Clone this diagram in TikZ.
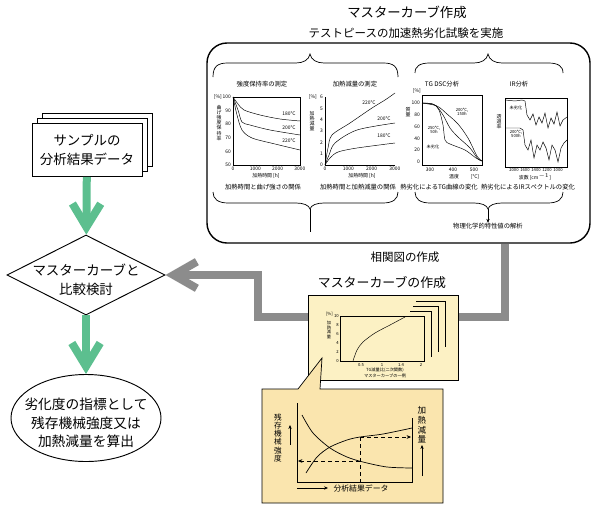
\documentclass[tikz,border=0pt]{standalone}
\usepackage{fontspec}
\setmainfont{Noto Sans CJK JP}
\usetikzlibrary{arrows.meta, positioning, shapes.geometric, calc}
\definecolor{FlowGreen}{HTML}{5CBF8F}
\definecolor{FlowGray}{HTML}{8C8C8C}
\definecolor{CardYellow}{HTML}{FCF1C4}
\definecolor{NoteYellow}{HTML}{FAE5AE}

\begin{document}
\begin{tikzpicture}[
    x=0.03cm, y=-0.03cm,
    % Text sizes
    bigtxt/.style={font=\fontsize{11.5}{16}\selectfont, align=center, inner sep=0},
    midtxt/.style={font=\fontsize{9.8}{12}\selectfont, inner sep=0},
    smalltxt/.style={font=\fontsize{5.4}{6.2}\selectfont, align=center, inner sep=0},
    tinytxt/.style={font=\fontsize{4.2}{4.6}\selectfont, align=center, inner sep=0},
    microtxt/.style={font=\fontsize{3.6}{4}\selectfont, align=center, inner sep=0},
    vtxt/.style={font=\fontsize{4.2}{4.4}\selectfont, align=center, inner sep=0},
    % Boxes
    panel/.style={
        rectangle,
        rounded corners=0.6cm,
        draw=black,
        line width=1.2pt,
        minimum width=11.49cm,
        minimum height=6cm
    },
    datacard/.style={
        rectangle,
        draw=black,
        fill=white,
        line width=0.8pt,
        minimum width=3.3cm,
        minimum height=1.59cm
    },
    judge/.style={
        diamond,
        draw=black,
        fill=white,
        line width=0.8pt,
        inner sep=0,
        minimum width=4.74cm,
        minimum height=2.4cm
    },
    result/.style={
        ellipse,
        draw=black,
        fill=white,
        line width=0.8pt,
        inner sep=0,
        minimum width=4.5cm,
        minimum height=2.61cm
    },
    mcard/.style={
        rectangle,
        draw=black,
        fill=CardYellow,
        line width=0.6pt,
        minimum width=4.5cm,
        minimum height=2.55cm
    },
    note/.style={draw=black, fill=NoteYellow, line width=0.6pt},
    brace/.style={draw=black, line width=0.6pt},
    curve/.style={draw=black, line width=0.4pt},
    % Connector styles
    grnarrow/.style={
        draw=FlowGreen,
        line width=0.24cm,
        -{Straight Barb[length=0.7cm, width=0.85cm]}
    },
    grayarrow/.style={
        draw=FlowGray,
        line width=0.24cm,
        -{Straight Barb[length=0.7cm, width=0.8cm]}
    },
    thinarrow/.style={draw=black, line width=0.4pt, -{Stealth[length=1.2mm, width=1mm]}}
]
    \useasboundingbox (0,0) rectangle (596,507);

    % --- Headings ---
    \node[font=\fontsize{11.4}{13}\selectfont, inner sep=0] (head) at (407,12) {マスターカーブ作成};
    \node[midtxt] (subhead) at (406,33) {テストピースの加速熱劣化試験を実施};

    % --- Test panel ---
    \node[panel] (test) at (398.5,143) {};

    % braces
    \draw[brace] (213,77) .. controls (213,66) and (218,63) .. (228,63) -- (296,63)
        .. controls (303,63) and (309,60) .. (310,54) .. controls (311,60) and (317,63) .. (324,63)
        -- (383,63) .. controls (393,63) and (398,66) .. (398,77);
    \draw[brace] (415,73) .. controls (415,66) and (420,63) .. (430,63) -- (474,63)
        .. controls (481,63) and (487,60) .. (488,54) .. controls (489,60) and (495,63) .. (502,63)
        -- (548,63) .. controls (558,63) and (563,66) .. (563,73);
    \draw[brace] (213,192) .. controls (213,199) and (218,203) .. (228,203) -- (296,203)
        .. controls (303,203) and (309,205) .. (310,209) .. controls (311,205) and (317,203) .. (324,203)
        -- (383,203) .. controls (393,203) and (398,199) .. (398,192);
    \draw[brace] (415,192) .. controls (415,199) and (420,203) .. (430,203) -- (474,203)
        .. controls (481,203) and (487,205) .. (488,209) .. controls (489,205) and (495,203) .. (502,203)
        -- (548,203) .. controls (558,203) and (563,199) .. (563,192);
    \coordinate (lefttip) at (310,209);
    \coordinate (righttip) at (488,209);
    \draw[brace] (lefttip) -- ++(0,23);
    \node[smalltxt] (analysis) at (488,226) {物理化学的特性値の解析};
    \draw[thinarrow] (righttip) -- (analysis.north);

    % plot 1: strength retention
    \node[smalltxt] (title1) at (262,84) {強度保持率の測定};
    \draw[curve] (233,97) rectangle (300,165);
    \draw[curve] plot[smooth] coordinates {(233,97) (238,104) (244,110) (260,115) (280,119) (300,121)};
    \draw[curve] plot[smooth] coordinates {(233,97) (238,110) (242,122) (250,125) (270,130) (300,135)};
    \draw[curve] plot[smooth] coordinates {(233,97) (237,115) (242,130) (252,138) (275,144) (300,150)};
    \node[tinytxt] at (289,114) {180℃};
    \node[tinytxt] at (289,128) {200℃};
    \node[tinytxt] at (289,141) {220℃};
    \foreach \v in {100,90,80,70,60,50}
        \node[tinytxt, anchor=east] at (231,{97+(100-\v)*1.36}) {\v};
    \node[tinytxt, anchor=east] at (222,97) {[\%]};
    \foreach \v in {0,1000,2000,3000}
        \node[tinytxt] at ({233+\v*0.0223},169) {\v};
    \node[tinytxt] at (266,176) {加熱時間 [h]};
    \node[vtxt] at (219,123) {曲\\げ\\強\\度\\保\\持\\率};
    \node[smalltxt] (cap1) at (263,187) {加熱時間と曲げ強さの関係};

    % plot 2: heating loss
    \node[smalltxt] (title2) at (355,84) {加熱減量の測定};
    \draw[curve] (325,97) -- (325,165) -- (395,165);
    \draw[curve] plot[smooth] coordinates {(325,165) (328,148) (332,135) (350,123) (372,108) (385,100) (395,93)};
    \draw[curve] plot[smooth] coordinates {(325,165) (329,155) (335,143) (357,130) (395,123)};
    \draw[curve] plot[smooth] coordinates {(325,165) (330,158) (338,152) (357,148) (395,143)};
    \node[tinytxt] at (369,103) {220℃};
    \node[tinytxt] at (384,119) {200℃};
    \node[tinytxt] at (384,136) {180℃};
    \foreach \v in {0,...,6}
        \node[tinytxt, anchor=east] at (323,{165-\v*11.33}) {\v};
    \node[tinytxt, anchor=east] at (317,97) {[\%]};
    \foreach \v in {0,1000,2000,3000}
        \node[tinytxt] at ({325+\v*0.0233},169) {\v};
    \node[tinytxt] at (362,176) {加熱時間 [h]};
    \node[vtxt] at (312,121) {加\\熱\\減\\量};
    \node[smalltxt] (cap2) at (358,187) {加熱時間と加熱減量の関係};

    % plot 3: TG DSC
    \node[smalltxt] (title3) at (442,84) {TG DSC分析};
    \draw[curve] (422,95) rectangle (482,165);
    \draw[curve] plot[smooth] coordinates {(422,103) (433,104) (439,110) (443,125) (445,140) (450,144) (465,150) (476,158) (482,161)};
    \draw[curve] plot[smooth] coordinates {(422,103) (435,105) (443,115) (450,128) (458,137) (470,148) (478,159) (482,161)};
    \draw[curve] plot[smooth] coordinates {(422,103) (437,106) (447,114) (458,124) (468,138) (477,156) (482,161)};
    \node[microtxt] at (462,112) {200℃,\\150h};
    \node[microtxt] at (434,130) {250℃,\\50h};
    \node[microtxt] at (433,147) {未劣化};
    \foreach \v in {100,80,60,40,20,0}
        \node[tinytxt, anchor=east] at (420,{103+(100-\v)*0.59}) {\v};
    \node[tinytxt, anchor=east] at (421,91) {[\%]};
    \node[tinytxt] at (430,170) {300};
    \node[tinytxt] at (453,170) {400};
    \node[tinytxt] at (474,170) {500};
    \node[tinytxt] at (454,177) {温度};
    \node[tinytxt] at (475,177) {[℃]};
    \node[vtxt] at (408,112) {質\\量};
    \node[smalltxt] (cap3) at (439,187) {熱劣化によるTG曲線の変化};

    % plot 4: IR
    \node[smalltxt] (title4) at (519,84) {IR分析};
    \draw[curve] (505,98) rectangle (567,167);
    \draw[curve] (505,100) -- (515,101) -- (522,100) -- (525,101) -- (527,115) -- (530,120) -- (533,114)
        -- (536,125) -- (539,117) -- (542,123) -- (545,113) -- (548,128) -- (551,118) -- (554,124)
        -- (557,112) -- (560,126) -- (563,120) -- (567,117);
    \draw[curve] (505,128) -- (520,128) -- (523,130) -- (525,145) -- (528,150) -- (531,140) -- (534,158)
        -- (537,145) -- (540,150) -- (543,142) -- (546,148) -- (549,160) -- (552,145) -- (555,150)
        -- (558,162) -- (561,148) -- (564,143) -- (567,140);
    \node[microtxt] at (516,108) {未劣化};
    \node[microtxt] at (516,134) {200℃,\\500h};
    \node[vtxt] at (499,122) {透\\過\\率};
    \node[microtxt] at (536,170) {2000\, 1600\, 1400\, 1200\, 1000};
    \node[tinytxt] at (535,177) {波数 [cm$^{-1}$]};
    \node[smalltxt] (cap4) at (528,187) {熱劣化によるIRスペクトルの変化};

    % --- Flow on the left ---
    \node[datacard] (sample3) at (97,140) {};
    \node[datacard] (sample2) at (92,145) {};
    \node[datacard, bigtxt] (sample) at (87,150) {サンプルの\\分析結果データ};

    \node[judge] (cmp) at (86,275) {};
    \node[bigtxt] (cmptxt) at (86,280) {マスターカーブと\\比較検討};

    \node[result] (result) at (86,418) {};
    \node[bigtxt, font=\fontsize{11.7}{15.8}\selectfont] (resulttxt) at (86,423)
        {劣化度の指標として\\残存機械強度又は\\加熱減量を算出};

    \draw[grnarrow] (sample) -- (cmp);
    \draw[grnarrow] (cmp) -- (result);

    % --- Correlation and master curve ---
    \node[midtxt] (corr) at (405,257) {相関図の作成};
    \node[font=\fontsize{11}{13}\selectfont, inner sep=0] (mtitle) at (382,283) {マスターカーブの作成};

    \coordinate (turn) at (258,317);
    \draw[grayarrow] ([xshift=3.195cm]test.south) |- (turn) |- (cmp.east);

    \node[mcard] (master) at (383,337.5) {};
    % stacked pages
    \draw[curve] (416,301) -- (445,301) -- (445,347);
    \draw[curve] (413,306) -- (438,306) -- (438,352);
    \draw[curve] (410,311) -- (431,311) -- (431,357);
    \draw[curve, fill=CardYellow] (340,316) rectangle (424,361);
    \draw[curve] plot[smooth] coordinates {(353,361) (357,350) (363,342) (375,333) (390,325) (405,317)};
    \foreach \v in {0,2,...,10}
        \node[microtxt, anchor=east] at (339,{361-\v*4.5}) {\v};
    \node[microtxt, anchor=east] at (333,314) {[\%]};
    \node[microtxt] at (329,330) {加\\熱\\減\\量};
    \node[microtxt] at (361,365) {0.5};
    \node[microtxt] at (382,365) {1};
    \node[microtxt] at (401,365) {1.4};
    \node[microtxt] at (421,365) {2};
    \node[microtxt] at (385,370.5) {TG減量比(二次関数)};
    \node[microtxt] at (385,376) {マスターカーブの一例};

    % --- Enlarged master curve ---
    \coordinate (pointer) at (322,358);
    \draw[note] (262,389) -- (298,389) -- (pointer) -- (320,389) -- (443,389) -- (443,503) -- (262,503) -- cycle;
    \draw[curve] (297,403) -- (297,482) -- (412,482) -- (412,418);
    \draw[curve, line width=0.6pt] plot[smooth] coordinates {(302,415) (313,433) (330,448) (347,457) (363,462) (387,467) (412,468)};
    \draw[curve, line width=0.6pt] plot[smooth] coordinates {(306,473) (317,457) (330,447) (347,440) (360,437) (383,434) (412,428)};
    \draw[curve, dashed, -{Stealth[length=1.3mm, width=1.1mm]}] (360,437) -- (411,437);
    \draw[curve, dashed] (360,437) -- (360,482);
    \draw[curve, dashed, -{Stealth[length=1.3mm, width=1.1mm]}] (360,461) -- (298,461);
    \node[font=\fontsize{6.5}{6.9}\selectfont, align=center, inner sep=0] (strength) at (278,438)
        {残\\存\\機\\械\\強\\度};
    \draw[thinarrow] (290,445) -- (290,425);
    \node[font=\fontsize{7.3}{8.3}\selectfont, align=center, inner sep=0] (loss) at (422,425)
        {加\\熱\\減\\量};
    \draw[thinarrow] (422,476) -- (422,445);
    \node[font=\fontsize{6.7}{8}\selectfont, inner sep=0] (datalabel) at (361,488) {分析結果データ};
    \coordinate (xstart) at (297,488);
    \draw[thinarrow] (xstart) -- (328,488);

\end{tikzpicture}
\end{document}
